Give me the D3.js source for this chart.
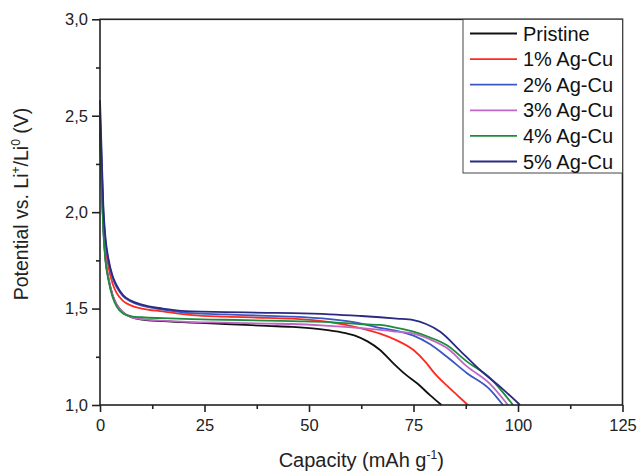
<!DOCTYPE html>
<html><head><meta charset="utf-8">
<script src="https://cdn.jsdelivr.net/npm/d3@7"></script>
<style>body{margin:0;background:#fff}svg{display:block}text{font-family:"Liberation Sans",Arial,sans-serif}</style>
</head><body>
<svg id="c" width="638" height="473"></svg>
<script>
const seriesNames = ["Pristine","1% Ag-Cu","2% Ag-Cu","3% Ag-Cu","4% Ag-Cu","5% Ag-Cu"];
const seriesColors = ["#111111","#ff2a1f","#3b58c2","#c066c8","#1c8c3c","#2a2a82"];
const capPristine = [0,0.4,0.8,1.3,2,3,4,5.5,7.5,10,15,22,30,40,46,52,57,61,64,67,70,73,76,79,81.7];
const vPristine   = [2.45,2.15,1.92,1.76,1.66,1.57,1.52,1.48,1.455,1.443,1.435,1.427,1.42,1.41,1.405,1.395,1.38,1.36,1.33,1.285,1.22,1.16,1.11,1.05,1.0];
const cap1 = [0,0.4,0.8,1.3,2,3,4,5.5,7.5,10,15,22,30,40,46,55,62,67,71,75,78,80,83,85.5,88];
const v1   = [2.5,2.2,1.97,1.82,1.72,1.63,1.58,1.54,1.515,1.5,1.485,1.466,1.458,1.452,1.448,1.43,1.4,1.37,1.335,1.285,1.22,1.165,1.1,1.05,1.0];
const cap2 = [0,0.4,0.8,1.3,2,3,4,5.5,7.5,10,15,22,30,40,46,55,62,67,71,75,79,83,87.8,93.3,96.4];
const v2   = [2.52,2.25,2.0,1.85,1.75,1.66,1.61,1.565,1.535,1.515,1.495,1.476,1.47,1.462,1.458,1.445,1.425,1.4,1.385,1.36,1.315,1.25,1.165,1.08,1.0];
const cap3 = [0,0.4,0.8,1.3,2,3,4,5.5,7.5,10,15,22,30,40,46,55,62,67,71,75,79,83,87.8,93.3,97.6];
const v3   = [2.45,2.15,1.92,1.76,1.66,1.57,1.52,1.48,1.455,1.445,1.437,1.43,1.427,1.422,1.42,1.41,1.4,1.39,1.38,1.37,1.34,1.295,1.2,1.11,1.0];
const cap4 = [0,0.4,0.8,1.3,2,3,4,5.5,7.5,10,15,22,30,40,46,55,62,67,71,75,79,83,87.8,93.3,98.8];
const v4   = [2.42,2.12,1.9,1.75,1.65,1.56,1.51,1.475,1.46,1.455,1.45,1.445,1.442,1.438,1.435,1.43,1.42,1.415,1.4,1.38,1.35,1.31,1.225,1.14,1.0];
const cap5 = [0,0.4,0.8,1.3,2,3,4,5.5,7.5,10,15,22,30,40,46,55,62,67,71,75,78,81.4,86,91,95.7,100.5];
const v5   = [2.58,2.3,2.03,1.87,1.76,1.67,1.62,1.57,1.54,1.52,1.5,1.485,1.482,1.478,1.476,1.47,1.462,1.455,1.448,1.44,1.42,1.38,1.285,1.18,1.095,1.0];
const xTicks = [0,25,50,75,100,125];
const xMinor = [12.5,37.5,62.5,87.5,112.5];
const yTicks = [1.0,1.5,2.0,2.5,3.0];
const yMinor = [1.25,1.75,2.25,2.75];
const xTitle = "Capacity (mAh g";
const caps = [capPristine,cap1,cap2,cap3,cap4,cap5];
const volts = [vPristine,v1,v2,v3,v4,v5];

const svg = d3.select("#c");
const L=100,R=622.5,T=19.3,B=405;
const x = d3.scaleLinear().domain([0,125]).range([L,R]);
const y = d3.scaleLinear().domain([1,3]).range([B,T]);
const fmt = d => d3.format(".1f")(d).replace(".",",");

// lines
const line = d3.line().x(d=>x(d[0])).y(d=>y(d[1])).curve(d3.curveMonotoneX);
const g = svg.append("g");
seriesNames.forEach((n,i)=>{
  const pts = caps[i].map((c,j)=>[c,volts[i][j]]);
  g.append("path").attr("d",line(pts)).attr("fill","none")
   .attr("stroke",seriesColors[i]).attr("stroke-width",1.8);
});

// frame
svg.append("rect").attr("x",L).attr("y",T).attr("width",R-L).attr("height",B-T)
  .attr("fill","none").attr("stroke","#222").attr("stroke-width",1.6);

// axes
const xa = svg.append("g").attr("transform",`translate(0,${B})`)
  .call(d3.axisBottom(x).tickValues(xTicks).tickSize(7).tickPadding(7).tickFormat(d3.format("d")));
const xm = svg.append("g").attr("transform",`translate(0,${B})`)
  .call(d3.axisBottom(x).tickValues(xMinor).tickSize(4).tickFormat(""));
const ya = svg.append("g").attr("transform",`translate(${L},0)`)
  .call(d3.axisLeft(y).tickValues(yTicks).tickSize(8).tickPadding(4).tickFormat(fmt));
const ym = svg.append("g").attr("transform",`translate(${L},0)`)
  .call(d3.axisLeft(y).tickValues(yMinor).tickSize(4).tickFormat(""));
[xa,xm,ya,ym].forEach(a=>{
  a.select(".domain").remove();
  a.selectAll("line").attr("stroke","#222").attr("stroke-width",1.6);
  a.selectAll("text").attr("font-size",16.5).attr("fill","#222").attr("font-family","Liberation Sans, Arial, sans-serif");
});

// axis titles
const xt = svg.append("text").attr("x",(L+R)/2).attr("y",467).attr("text-anchor","middle")
  .attr("font-size",20).attr("fill","#222");
xt.append("tspan").text(xTitle);
xt.append("tspan").attr("dy",-8).attr("font-size",12).text("-1");
xt.append("tspan").attr("dy",8).text(")");

const yt = svg.append("text").attr("transform","translate(28,204) rotate(-90)").attr("text-anchor","middle")
  .attr("font-size",19.5).attr("fill","#222");
yt.append("tspan").text("Potential vs. Li");
yt.append("tspan").attr("dy",-8).attr("font-size",12).text("+");
yt.append("tspan").attr("dy",8).text("/Li");
yt.append("tspan").attr("dy",-8).attr("font-size",12).text("0");
yt.append("tspan").attr("dy",8).text(" (V)");

// legend
const lg = svg.append("g");
lg.append("rect").attr("x",463).attr("y",T).attr("width",R-463).attr("height",173-T)
  .attr("fill","#fff").attr("stroke","#444").attr("stroke-width",1);
seriesNames.forEach((n,i)=>{
  const yy = 33.5 + i*25.6;
  lg.append("line").attr("x1",470).attr("x2",517).attr("y1",yy).attr("y2",yy)
    .attr("stroke",seriesColors[i]).attr("stroke-width",1.8);
  lg.append("text").attr("x",523).attr("y",yy+7).attr("font-size",20).attr("fill","#111").text(n);
});
</script>
</body></html>
